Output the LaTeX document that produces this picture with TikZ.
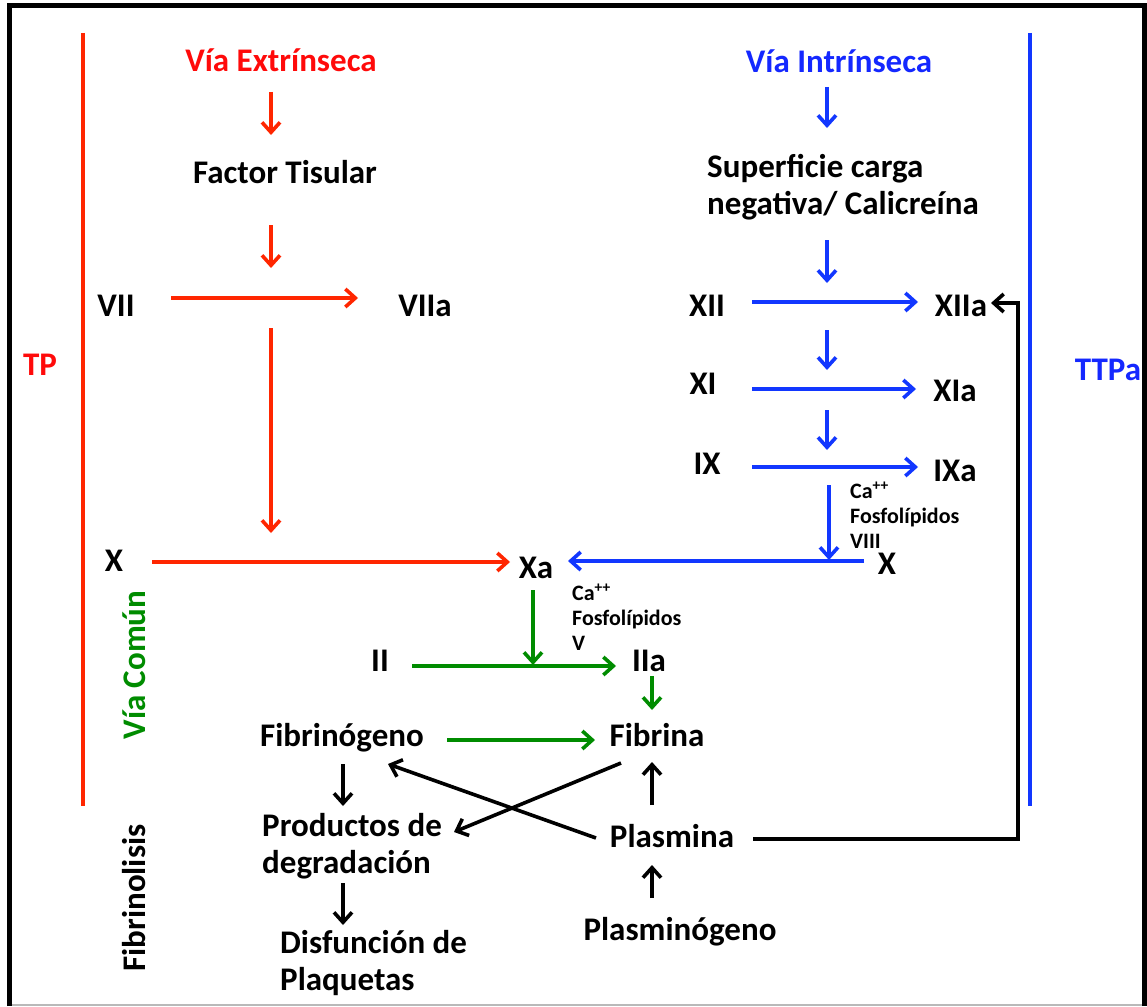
\documentclass[tikz,border=0pt]{standalone}
\usepackage{fontspec}
\setmainfont{Carlito}
\usetikzlibrary{arrows.meta}
\definecolor{cred}{RGB}{255,38,0}
\definecolor{tred}{RGB}{255,10,10}
\definecolor{cblue}{RGB}{18,55,255}
\definecolor{tblue}{RGB}{20,40,255}
\definecolor{cgreen}{RGB}{0,140,0}
\newcommand{\twolines}[2]{\vtop{\hbox{#1}\hbox{#2}}}
\newcommand{\threelines}[3]{\vtop{\hbox{#1}\hbox{#2}\hbox{#3}}}
\begin{document}
\begin{tikzpicture}[x=1pt,y=-1pt,
  lbl/.style={font=\fontsize{33}{37}\selectfont\bfseries, inner sep=0pt, anchor=base},
  lblw/.style={lbl, anchor=base west},
  sm/.style={font=\fontsize{22}{25}\selectfont\bfseries, inner sep=0pt, anchor=base west},
  rot/.style={font=\fontsize{33}{37}\selectfont\bfseries, inner sep=0pt, anchor=center, rotate=90},
  arr/.style={line width=3.6pt, -{Straight Barb[length=10pt,width=18pt,line width=3.6pt]}},
  rarr/.style={arr, cred},
  barr/.style={arr, cblue},
  garr/.style={arr, cgreen},
  karr/.style={arr, black},
]
\useasboundingbox (0,0) rectangle (1147,1006);
\fill[white] (0,0) rectangle (1147,1006);
% frame
\draw[line width=5pt, line join=miter] (9.5,1006) -- (9.5,5.5) -- (1144.5,5.5) -- (1144.5,1006);
\draw[gray!55, line width=1.5pt] (12,1005) -- (1142,1005);
% side bars
\draw[cred, line width=4pt] (83,33) -- (83,806);
\draw[cblue, line width=4pt] (1030,33) -- (1030,806);
\node[lbl, text=tred] (tp) at (40,375) {TP};
\node[lbl, text=tblue] (ttpa) at (1108,380) {TTPa};
\node[rot, text=cgreen] (vc) at (134,665) {Vía Común};
\node[rot] (fl) at (134,898) {Fibrinolisis};

% extrinsic
\node[lbl, text=tred] (ve) at (281,72) {Vía Extrínseca};
\node[lbl] (ft) at (285,183) {Factor Tisular};
\node[lbl] (vii) at (116,316) {VII};
\node[lbl] (viia) at (425,316) {VIIa};
\node[lbl] (xl) at (114,571) {X};
\node[lbl] (xa) at (536,578) {Xa};
\coordinate (c1) at (271,268);
\coordinate (c2) at (271,328);
\coordinate (c3) at (271,533);
\draw[rarr] ([shift={(-10,20)}]ve.base) -- ([shift={(-14,-48)}]ft.base);
\draw[rarr] ([shift={(-14,42)}]ft.base) -- (c1);
\draw[rarr] ([shift={(55,-18)}]vii.base) -- ([shift={(-67,-18)}]viia.base);
\draw[rarr] (c2) -- (c3);
\draw[rarr] ([shift={(38,-9)}]xl.base) -- ([shift={(-26,-16)}]xa.base);

% intrinsic
\node[lbl, text=tblue] (vi) at (839,73) {Vía Intrínseca};
\node[lblw] (sc) at (707,177) {\twolines{Superficie carga}{negativa/ Calicreína}};
\node[lbl] (xii) at (707,316) {XII};
\node[lbl] (xiia) at (961,316) {XIIa};
\node[lbl] (xi) at (703,394) {XI};
\node[lbl] (xia) at (955,401) {XIa};
\node[lbl] (ix) at (707,474) {IX};
\node[lbl] (ixa) at (955,481) {IXa};
\node[lbl] (xr) at (887,574) {X};
\node[sm] (s1) at (850,498) {\threelines{Ca\textsuperscript{++}}{Fosfolípidos}{VIII}};
\coordinate (d1) at (827,283);
\coordinate (d2) at (827,330);
\coordinate (d3) at (827,370);
\coordinate (d4) at (827,410);
\coordinate (d5) at (827,450);
\coordinate (d6) at (829,485);
\coordinate (d7) at (829,560);
\draw[barr] ([shift={(-12,14)}]vi.base) -- ([shift={(-12,55)}]vi.base);
\draw[barr] ([shift={(120,63)}]sc.base west) -- (d1);
\draw[barr] ([shift={(45,-14)}]xii.base) -- ([shift={(-43,-14)}]xiia.base);
\draw[barr] (d2) -- (d3);
\draw[barr] ([shift={(49,-5)}]xi.base) -- ([shift={(-39,-12)}]xia.base);
\draw[barr] (d4) -- (d5);
\draw[barr] ([shift={(45,-7)}]ix.base) -- ([shift={(-37,-14)}]ixa.base);
\draw[barr] (d6) -- (d7);
\draw[barr] ([shift={(-23,-13)}]xr.base) -- ([shift={(32,-17)}]xa.base);

% common
\node[lbl] (ii) at (380,671) {II};
\node[lbl] (iia) at (649,671) {IIa};
\node[lbl] (fbg) at (342,746) {Fibrinógeno};
\node[lbl] (fib) at (657,746) {Fibrina};
\node[sm] (s2) at (572,600) {\threelines{Ca\textsuperscript{++}}{Fosfolípidos}{V}};
\coordinate (e1) at (533,665);
\draw[garr] ([shift={(-3,12)}]xa.base) -- (e1);
\draw[garr] ([shift={(32,-5)}]ii.base) -- ([shift={(-33,-5)}]iia.base);
\draw[garr] ([shift={(3,5)}]iia.base) -- ([shift={(-5,-36)}]fib.base);
\draw[garr] ([shift={(105,-6)}]fbg.base) -- ([shift={(-62,-6)}]fib.base);

% fibrinolysis
\node[lblw] (pd) at (262,836) {\twolines{Productos de}{degradación}};
\node[lblw] (dp) at (280,953) {\twolines{Disfunción de}{Plaquetas}};
\node[lbl] (pla) at (672,847) {Plasmina};
\node[lbl] (plg) at (680,940) {Plasminógeno};
\draw[karr] ([shift={(1,18)}]fbg.base) -- ([shift={(81,-30)}]pd.base west);
\draw[karr] ([shift={(81,47)}]pd.base west) -- ([shift={(63,-28)}]dp.base west);
\draw[karr] ([shift={(-20,-42)}]pla.base) -- ([shift={(-5,16)}]fib.base);
\draw[karr] ([shift={(-28,-42)}]plg.base) -- ([shift={(-20,18)}]pla.base);
\draw[karr] ([shift={(-76,-9)}]pla.base) -- ([shift={(46,18)}]fbg.base);
\draw[karr] ([shift={(-36,17)}]fib.base) -- ([shift={(192,-4)}]pd.base west);
\coordinate (f1) at (1018,839);
\coordinate (f2) at (1018,303);
\draw[karr, line join=miter] ([shift={(81,-8)}]pla.base) -- (f1) -- (f2) -- ([shift={(30,-13)}]xiia.base);
\end{tikzpicture}
\end{document}
